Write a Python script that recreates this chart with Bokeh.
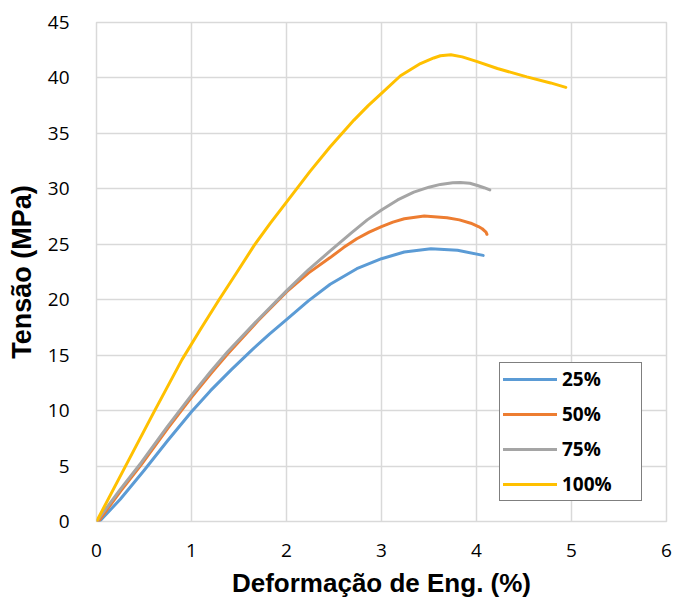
from bokeh.plotting import figure
from bokeh.models import Range1d, Legend, LegendItem, SingleIntervalTicker
from bokeh.embed import file_html
from bokeh.resources import INLINE

# ---- data ----
series_names = ["25%", "50%", "75%", "100%"]
series_colors = ["#5B9BD5", "#ED7D31", "#A5A5A5", "#FFC000"]

strain_25 = [0.03, 0.25, 0.5, 0.75, 1.0, 1.2, 1.42, 1.64, 1.82, 2.0, 2.23, 2.46, 2.74,
             3.0, 3.24, 3.52, 3.80, 4.07]
stress_25 = [0.0, 2.0, 4.6, 7.3, 9.9, 11.8, 13.7, 15.5, 16.9, 18.2, 19.9, 21.4, 22.8,
             23.7, 24.3, 24.6, 24.46, 24.0]

strain_50 = [0.02, 0.25, 0.47, 0.75, 1.0, 1.2, 1.38, 1.7, 2.0, 2.23, 2.46, 2.6, 2.74, 2.87,
             3.0, 3.12, 3.24, 3.45, 3.69, 3.82, 3.94, 4.02, 4.06, 4.1, 4.11]
stress_50 = [0.0, 2.7, 5.1, 8.4, 11.2, 13.3, 15.1, 18.1, 20.7, 22.4, 23.8, 24.7, 25.5, 26.1,
             26.6, 27.0, 27.3, 27.55, 27.4, 27.2, 26.9, 26.6, 26.4, 26.1, 25.9]

strain_75 = [0.0, 0.25, 0.47, 0.75, 1.0, 1.2, 1.38, 1.7, 2.0, 2.23, 2.46, 2.68, 2.85, 3.0,
             3.17, 3.34, 3.5, 3.62, 3.75, 3.83, 3.93, 4.01, 4.08, 4.14]
stress_75 = [0.0, 2.9, 5.3, 8.6, 11.4, 13.5, 15.3, 18.2, 20.8, 22.7, 24.4, 26.0, 27.2, 28.1,
             29.0, 29.7, 30.15, 30.4, 30.55, 30.57, 30.5, 30.3, 30.1, 29.9]

strain_100 = [0.0, 0.3, 0.6, 0.9, 1.1, 1.29, 1.48, 1.66, 1.83, 2.0, 2.25, 2.46, 2.71, 2.86,
              3.0, 3.2, 3.41, 3.55, 3.62, 3.73, 3.85, 4.0, 4.22, 4.53, 4.78, 4.94]
stress_100 = [0.0, 4.9, 9.8, 14.6, 17.4, 20.0, 22.5, 24.9, 26.9, 28.8, 31.6, 33.8, 36.2, 37.5,
              38.6, 40.2, 41.3, 41.8, 42.0, 42.1, 41.9, 41.5, 40.85, 40.1, 39.55, 39.15]

x_label = "Deformação de Eng. (%)"
y_label = "Tensão (MPa)"

GRID = "#d9d9d9"

p = figure(width=673, height=604, output_backend="svg", toolbar_location=None,
           x_range=Range1d(0, 6), y_range=Range1d(0, 45),
           min_border_left=96, min_border_right=7, min_border_top=22, min_border_bottom=83)

p.background_fill_color = "white"
p.border_fill_color = "white"
p.outline_line_color = GRID
p.outline_line_width = 1.5

p.xaxis.ticker = SingleIntervalTicker(interval=1)
p.yaxis.ticker = SingleIntervalTicker(interval=5)
for ax in (p.xaxis[0], p.yaxis[0]):
    ax.axis_line_color = None
    ax.major_tick_line_color = None
    ax.minor_tick_line_color = None
    ax.major_tick_out = 0
    ax.major_tick_in = 0
    ax.major_label_text_font = "Open Sans"
    ax.major_label_text_font_size = "19px"
    ax.major_label_text_color = "#000000"
    ax.axis_label_text_font = "Liberation Sans"
    ax.axis_label_text_font_style = "bold"
    ax.axis_label_text_color = "#000000"

p.xaxis.axis_label = x_label
p.yaxis.axis_label = y_label
p.xaxis.axis_label_text_font_size = "26px"
p.yaxis.axis_label_text_font_size = "27px"
p.xaxis.major_label_standoff = 18
p.yaxis.major_label_standoff = 23
p.xaxis.axis_label_standoff = 8
p.yaxis.axis_label_standoff = 8

p.xgrid.grid_line_color = GRID
p.ygrid.grid_line_color = GRID
p.xgrid.grid_line_width = 1.5
p.ygrid.grid_line_width = 1.5

xs = [strain_25, strain_50, strain_75, strain_100]
ys = [stress_25, stress_50, stress_75, stress_100]
items = []
for name, color, x, y in zip(series_names, series_colors, xs, ys):
    r = p.line(x, y, line_color=color, line_width=3, line_cap="round", line_join="round")
    items.append(LegendItem(label=name, renderers=[r]))

legend = Legend(items=items, location=(403, 20),
                label_text_font="Open Sans", label_text_font_style="bold",
                label_text_font_size="19px", label_text_color="#000000",
                glyph_width=54, glyph_height=20, label_height=20, label_width=76,
                label_standoff=5, spacing=9, padding=3, margin=0,
                border_line_color="black", border_line_width=1.5,
                background_fill_color="white", background_fill_alpha=1.0)
p.add_layout(legend)

open("out.html", "w").write(file_html(p, INLINE))
